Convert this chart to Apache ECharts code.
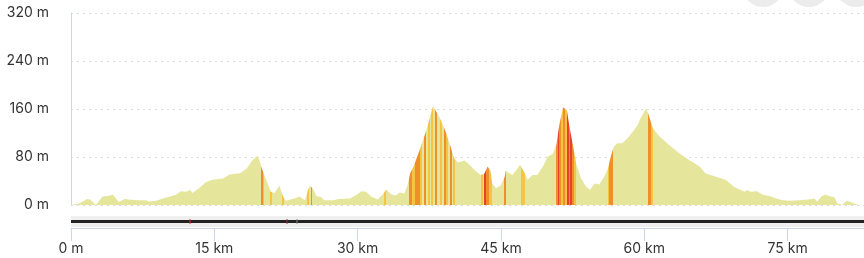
<!DOCTYPE html>
<html>
<head>
<meta charset="utf-8">
<script src="https://cdn.jsdelivr.net/npm/echarts@6/dist/echarts.min.js"></script>
<style>
html,body{margin:0;padding:0;background:#fff;}
#c{width:864px;height:258px;}
</style>
</head>
<body>
<div id="c"></div>
<script>
// Distance along route (km) and elevation (m)
var distKm = [0,0.8,1.7,2.0,2.6,3.3,3.8,4.4,5.0,5.6,6.0,7.0,7.8,8.2,8.9,9.9,11.0,11.5,12.0,12.5,12.7,13.4,14.1,14.8,15.9,16.6,17.7,18.4,19.0,19.5,19.7,19.9,20.5,20.9,21.3,21.8,22.2,22.5,23.6,23.9,24.5,24.8,25.0,25.3,25.7,26.2,26.5,27.4,28.1,29.2,29.9,30.4,30.9,31.4,32.1,32.6,33.0,33.5,34.0,34.4,34.9,35.2,35.5,35.9,36.5,37.2,37.6,37.9,38.6,39.1,39.6,40.1,40.5,41.2,41.7,42.4,42.9,43.3,43.6,43.9,44.1,44.5,45.0,45.4,45.5,45.9,46.2,46.6,47.0,47.4,47.8,48.3,48.8,49.4,49.9,50.4,50.8,51.1,51.5,51.9,52.2,52.6,52.9,53.4,53.9,54.3,54.8,55.3,55.8,56.2,56.5,56.8,57.2,57.7,58.3,58.8,59.3,59.6,60.2,60.4,60.9,61.6,62.6,63.7,64.7,65.8,66.4,67.5,68.5,68.9,69.4,70.1,70.5,70.8,71.1,71.8,72.4,73.1,73.8,74.5,75.2,76.2,77.2,77.8,78.1,78.6,79.0,79.5,79.9,80.2,80.7,81.2,81.7,82.4,83.0];
var elevM  = [0,2,10,9,0,14,15,17,5,10,9,8,8,6,7,12,17,23,22,25,20,28,38,42,44,51,53,61,75,82,76,64,39,22,20,32,14,7,12,14,8,25,32,28,15,13,8,8,10,11,17,23,22,14,9,17,26,18,16,21,19,32,53,66,92,125,148,165,145,127,104,78,71,74,67,56,50,53,64,57,36,28,33,47,57,53,50,58,67,56,42,50,50,64,81,85,100,133,163,158,128,94,67,44,31,25,36,34,47,61,81,97,103,103,112,122,133,144,161,153,128,114,100,86,75,64,53,47,42,37,30,25,22,25,22,23,17,15,11,8,7,8,9,11,6,15,17,14,13,3,0,7,4,0,1];

// Steep sections (km ranges) and their grade class
var stripeStart = [19.85,20.05,20.87,22.06,24.70,25.09,32.75,35.33,35.64,35.96,36.48,36.90,37.32,37.73,38.15,38.57,38.99,39.30,39.72,40.03,42.93,43.27,43.48,43.80,45.33,47.11,50.77,50.94,51.11,51.29,51.53,51.74,51.90,52.11,52.26,52.47,52.63,56.16,56.30,60.34,60.70];
var stripeEnd   = [20.05,20.20,21.08,22.27,24.88,25.26,32.93,35.64,35.96,36.48,36.69,37.11,37.53,37.94,38.36,38.78,39.20,39.51,39.93,40.24,43.17,43.48,43.80,44.08,45.54,47.53,50.94,51.11,51.29,51.53,51.74,51.90,52.11,52.26,52.47,52.63,52.89,56.30,56.75,60.70,60.87];
var stripeGrade = ['o','y','y','y','y','o','y','o','y','o','y','o','y','y','o','y','o','y','o','y','y','r','o','y','o','y','o','r','o','y','o','y','r','o','r','o','y','y','o','o','y'];

var yTicks = [0,80,160,240,320];
var xTicks = [0,15,30,45,60,75];

var gradeColor = {y:'#f5c445', o:'#ef8f2b', r:'#e4432a'};
var baseColor = '#e5e59c';

var data = distKm.map(function(d,i){return [d, elevM[i]];});
var pieces = stripeStart.map(function(s,i){
  return {gte:s, lt:stripeEnd[i], color:gradeColor[stripeGrade[i]]};
});

var chart = echarts.init(document.getElementById('c'), null, {renderer:'canvas'});
var font = 'Inter, "Noto Sans", sans-serif';
chart.setOption({
  animation:false,
  grid:[
    {left:71, right:0, top:13, bottom:53},
    {left:71, right:0, top:227, bottom:30}
  ],
  xAxis:[{
    gridIndex:0, type:'value', min:0, max:83, interval:15,
    axisLine:{show:false}, axisTick:{show:false}, axisLabel:{show:false}, splitLine:{show:false}
  },{
    gridIndex:1, type:'value', min:0, max:83, interval:15,
    axisLine:{show:true, lineStyle:{color:'#ccd6eb', width:1}},
    axisTick:{show:true, length:13, customValues:xTicks, lineStyle:{color:'#ccd6eb'}},
    axisLabel:{
      margin:14, color:'#333', fontSize:14, fontFamily:font, customValues:xTicks,
      formatter:function(v){ if(xTicks.indexOf(v)<0) return ''; return v===0?'0 m':v+' km'; }
    },
    splitLine:{show:false}
  }],
  yAxis:[{
    gridIndex:0, type:'value', min:0, max:320, interval:80,
    axisLine:{show:true, lineStyle:{color:'#ccd6eb', width:1}},
    axisTick:{show:false},
    axisLabel:{margin:22, color:'#333', fontSize:14, fontFamily:font, padding:[0,0,6,0],
      formatter:function(v){ return yTicks.indexOf(v)<0 ? '' : v+' m'; }},
    splitLine:{show:true, lineStyle:{color:'#d9d9d9', width:1, type:[2,4]}}
  },{
    gridIndex:1, type:'value', min:0, max:1, show:false
  }],
  visualMap:{
    type:'piecewise', show:false, dimension:0, seriesIndex:0,
    pieces:pieces, outOfRange:{color:baseColor}
  },
  series:[{
    type:'line', xAxisIndex:0, yAxisIndex:0, data:data, showSymbol:false, symbol:'none',
    lineStyle:{width:0, opacity:0},
    areaStyle:{opacity:1},
    silent:true
  }],
  graphic:[
    {type:'rect', shape:{x:71, y:216, width:793, height:11}, style:{fill:'#efefef'}, silent:true},
    {type:'rect', shape:{x:71, y:220, width:793, height:3}, style:{fill:'#222'}, silent:true},
    {type:'rect', shape:{x:189.5, y:219, width:1, height:5}, style:{fill:'#e0303a'}, silent:true},
    {type:'rect', shape:{x:286.5, y:219, width:1, height:5}, style:{fill:'#a03040'}, silent:true},
    {type:'rect', shape:{x:296.5, y:219, width:1, height:5}, style:{fill:'#888'}, silent:true},
    {type:'circle', shape:{cx:763, cy:-14, r:21}, style:{fill:'#ececec'}, silent:true},
    {type:'circle', shape:{cx:809, cy:-14, r:21}, style:{fill:'#ececec'}, silent:true},
    {type:'circle', shape:{cx:856, cy:-14, r:21}, style:{fill:'#ececec'}, silent:true}
  ]
});
</script>
</body>
</html>
